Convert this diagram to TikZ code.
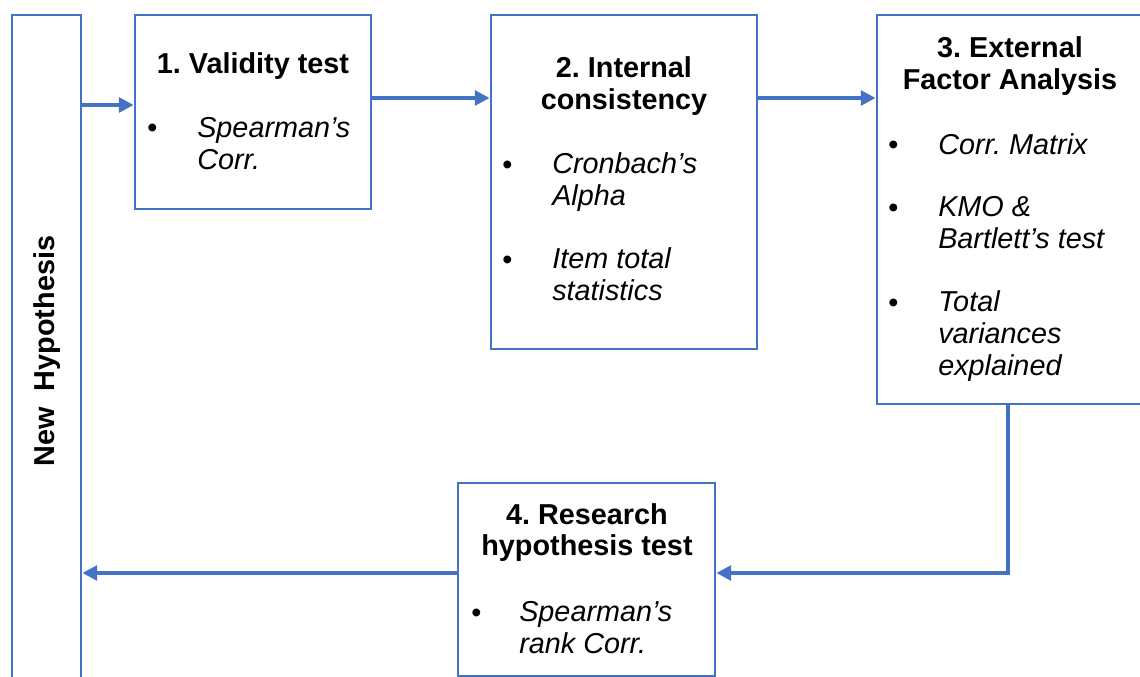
\documentclass[tikz,border=0pt]{standalone}
\usepackage{fontspec}
\setmainfont{Liberation Sans}
\usetikzlibrary{arrows.meta,fit}
\definecolor{flowblue}{HTML}{4472C4}
\frenchspacing
\newcommand{\flowsize}{\fontsize{21.6}{24}\selectfont}
\begin{document}
\begin{tikzpicture}[x=0.75pt,y=-0.75pt,
  box/.style={draw=flowblue, line width=2.1pt, inner sep=0pt},
  flow/.style={draw=flowblue, line width=2.6pt, -{Triangle[length=11pt,width=11pt]}},
  title/.style={font=\flowsize\bfseries, align=center, inner sep=0pt, anchor=base},
  item/.style={font=\flowsize\itshape, align=left, inner sep=0pt, anchor=base west},
  dot/.style={font=\flowsize, inner sep=0pt, anchor=base west}]
\useasboundingbox (0,0) rectangle (1140,677);

% frames
\node[box, fit={(12,15) (81,720)}] (nh) {};
\node[box, fit={(135,15) (371,209)}] (b1) {};
\node[box, fit={(491,15) (757,349)}] (b2) {};
\node[box, fit={(877,15) (1145,404)}] (b3) {};
\node[box, fit={(458,483) (715,676)}] (b4) {};

% vertical label
\node[font=\flowsize\bfseries, rotate=90, anchor=base, inner sep=0pt]
  (nhtext) at (54,351) {New\ \ Hypothesis};

% step 1 (multi-line nodes sit on the baseline of their last line)
\node[title] (t1) at (253,74) {1. Validity test};
\node[dot] (d1a) at (147,138) {•};
\node[item] (i1a) at (197,170) {Spearman’s\\Corr.};

% step 2
\node[title] (t2) at (624,110) {2. Internal\\consistency};
\node[dot] (d2a) at (502,175) {•};
\node[item] (i2a) at (552,206) {Cronbach’s\\Alpha};
\node[dot] (d2b) at (502,270) {•};
\node[item] (i2b) at (552,301) {Item total\\statistics};

% step 3
\node[title] (t3) at (1010,90) {3. External\\Factor Analysis};
\node[dot] (d3a) at (888,155) {•};
\node[item] (i3a) at (938,155) {Corr. Matrix};
\node[dot] (d3b) at (888,218) {•};
\node[item] (i3b) at (938,249) {KMO \&\\Bartlett’s test};
\node[dot] (d3c) at (888,313) {•};
\node[item] (i3c) at (938,376) {Total\\variances\\explained};

% step 4
\node[title] (t4) at (587,556) {4. Research\\hypothesis test};
\node[dot] (d4a) at (471,622) {•};
\node[item] (i4a) at (519,653) {Spearman’s\\rank Corr.};

% connectors
\coordinate (ya) at (0,105);
\coordinate (yb) at (0,98);
\coordinate (turn) at (1008,573);
\draw[flow] (nh.east |- ya) -- (b1.west |- ya);
\draw[flow] (b1.east |- yb) -- (b2.west |- yb);
\draw[flow] (b2.east |- yb) -- (b3.west |- yb);
\draw[flow] (b3.south -| turn) -- (turn) -- (b4.east |- turn);
\draw[flow] (b4.west |- turn) -- (nh.east |- turn);
\end{tikzpicture}
\end{document}
